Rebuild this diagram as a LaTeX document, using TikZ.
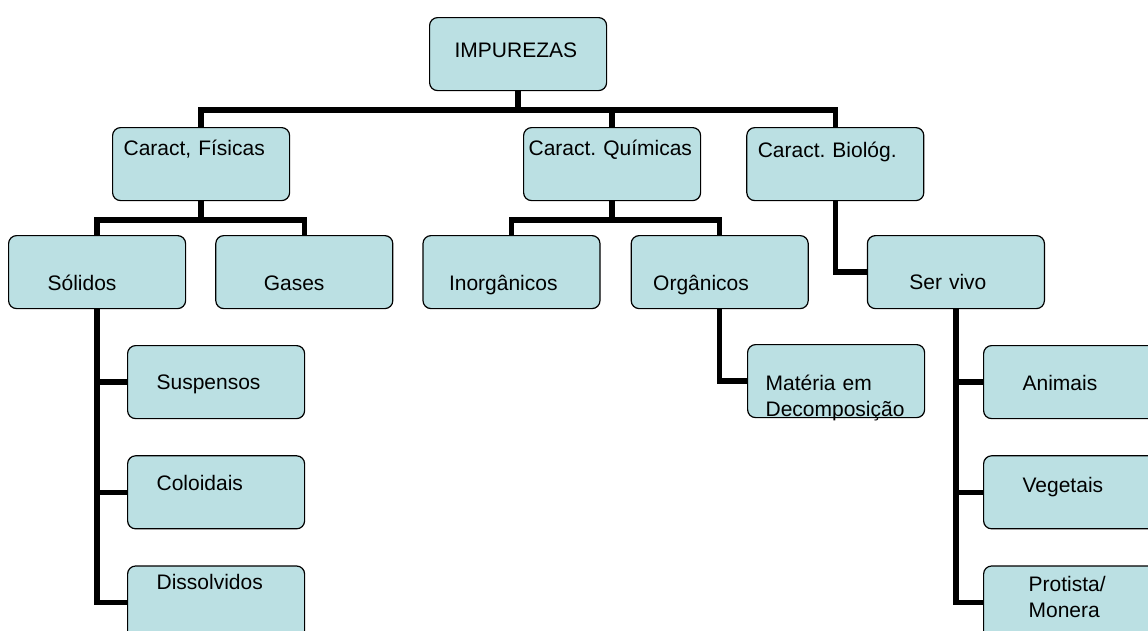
\documentclass[tikz,border=0pt]{standalone}
\usepackage{fontspec}
\setmainfont{Liberation Sans}
\frenchspacing
\usepackage{tikz}
\usetikzlibrary{positioning}
\definecolor{boxfill}{RGB}{187,224,227}
\tikzset{
  every picture/.style = {
    x = 1pt,
    y = -1pt,
    node distance = 36pt and 29pt,
  }
  ,
  box/.style 2 args = {
    rectangle,
    rounded corners = 8pt,
    draw,
    line width = 1.2pt,
    fill = boxfill,
    font = \fontsize{21}{26}\selectfont,
    align = left,
    inner ysep = 0pt,
    inner xsep = #1,
    text width = 177pt-2*#1,
    text height = #2,
    text depth = 73pt-#2
  }
  , % thick lines of the chart
  link/.style = {
    line width = 5.5pt,
    sharp corners
  }
}
\begin{document}
\begin{tikzpicture}
    \useasboundingbox (0,0) rectangle (1148,630);
    \clip (0,0) rectangle (1148,630);

    \node [box={25pt}{40pt}, anchor=north west] (imp) at (429,17) {IMPUREZAS};
    \node [box={11pt}{28pt}, anchor=north west] (fis) at (112,127) {Caract, Físicas};
    \node [box={5pt}{28pt}, anchor=north west] (qui) at (523,127) {Caract. Químicas};
    \node [box={11pt}{30pt}, right = 45pt of qui] (bio) {Caract. Biológ.};

    \node [box={39pt}{55pt}, anchor=north west] (sol) at (8,235) {Sólidos};
    \node [box={48pt}{55pt}, right = of sol] (gas) {Gases};
    \node [box={26pt}{55pt}, right = of gas] (ino) {Inorgânicos};
    \node [box={22pt}{55pt}, right = 30pt of ino] (org) {Orgânicos};
    \node [box={42pt}{54pt}, right = 58pt of org] (ser) {Ser vivo};

    \node [box={29pt}{44pt}, anchor=north west] (susp) at (127,345) {Suspensos};
    \node [box={29pt}{35pt}, below = of susp] (col) {Coloidais};
    \node [box={29pt}{23pt}, below = of col] (dis) {Dissolvidos};

    \node [box={18pt}{46pt}, anchor=north west] (mat) at (747,344) {Matéria em\\Decomposição};

    \node [box={39pt}{45pt}, anchor=north west] (ani) at (983,345) {Animais};
    \node [box={39pt}{37pt}, below = of ani] (veg) {Vegetais};
    \node [box={45pt}{25pt}, below = of veg] (pro) {Protista/\\Monera};

    \draw [link] (imp.south) -- ++(0,19) -| (fis.north);
    \draw [link] (imp.south) -- ++(0,19) -| (qui.north);
    \draw [link] (imp.south) -- ++(0,19) -| (bio.north);
    \draw [link] (fis.south) -- ++(0,19) -| (sol.north);
    \draw [link] (fis.south) -- ++(0,19) -| (gas.north);
    \draw [link] (qui.south) -- ++(0,19) -| (ino.north);
    \draw [link] (qui.south) -- ++(0,19) -| (org.north);
    \draw [link] (org.south) |- (mat.west);
    \draw [link] (bio.south) |- (ser.west);
    \draw [link] (sol.south) |- (susp.west);
    \draw [link] (sol.south) |- (col.west);
    \draw [link] (sol.south) |- (dis.west);
    \draw [link] (ser.south) |- (ani.west);
    \draw [link] (ser.south) |- (veg.west);
    \draw [link] (ser.south) |- (pro.west);
\end{tikzpicture}
\end{document}
